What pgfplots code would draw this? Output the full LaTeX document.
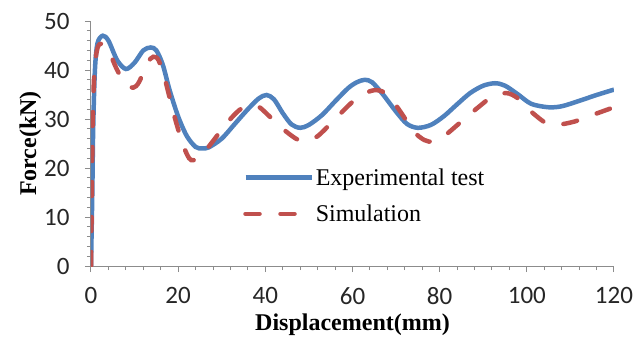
\documentclass[border=0pt]{standalone}
\usepackage{pgfplots}
\pgfplotsset{compat=1.18}
\usepackage{fontspec}
\setmainfont{Liberation Serif}
\newfontfamily\tickfont{Carlito}
\definecolor{expblue}{HTML}{4F81BD}
\definecolor{simred}{HTML}{C0504D}
\definecolor{axisgray}{HTML}{8C8C8C}
\begin{document}
\begin{tikzpicture}
\useasboundingbox (-91pt,-72pt) rectangle (542pt,266pt);
\begin{axis}[
  scale only axis,
  width=523pt, height=245pt,
  xmin=0, xmax=120, ymin=0, ymax=50,
  axis x line*=bottom, axis y line*=left,
  axis line style={axisgray, line width=1pt, -},
  xtick={0,20,...,120}, ytick={0,10,...,50},
  minor x tick num=4, minor y tick num=4,
  tick align=outside,
  major tick length=6pt, minor tick length=4pt,
  tick style={axisgray, line width=1pt},
  ticklabel style={font=\tickfont\fontsize{25}{27}\selectfont, text=black!85},
  /pgf/number format/assume math mode=true,
  xticklabel style={yshift=-12pt},
  yticklabel style={xshift=-12pt},
  xlabel={\bfseries Displacement(mm)},
  ylabel={\bfseries Force(kN)},
  label style={font=\fontsize{24}{26}\selectfont},
  xlabel style={yshift=-2pt},
  ylabel style={yshift=-4pt},
  legend style={draw=none, fill=none, at={(0.285,0.415)}, anchor=north west,
    font=\fontsize{24}{26}\selectfont, row sep=14pt,
    /tikz/every even column/.append style={column sep=7pt}},
  legend cell align=left,
  legend image code/.code={\draw[#1] (0pt,0pt) -- (66pt,0pt);},
]
\addplot[expblue, line width=4.5pt, smooth, tension=0.5] coordinates {
(0,0) (0.3,15) (0.5,28) (0.9,40) (1.5,45.5) (2.7,47) (4,46) (6,42) (8,40.2)
(10,41.5) (12,44) (13.7,44.6) (15,44) (16.5,41) (18,36) (20,30.5) (22,26.5)
(24,24.3) (25.5,24) (27,24.2) (30,26) (33,29) (36,32) (38.5,34.2) (40.3,34.9)
(42,34) (44,31.2) (46,28.9) (48,28.2) (50,28.8) (53,30.8) (56,33.6) (59,36.3)
(61,37.5) (62.8,38) (64.5,37.5) (67,35) (70,31.5) (72.5,29) (75,28.2) (78,28.8)
(81,30.6) (84,33) (87,35.3) (90,36.8) (92.7,37.3) (95,36.8) (98,35) (101,33.1)
(104.9,32.4) (108,32.6) (112,33.7) (116,34.9) (120,36.0)
};
\addlegendentry{Experimental test}
\addplot[simred, line width=4.5pt, smooth, tension=0.5, line cap=round,
  dash pattern=on 14pt off 21pt] coordinates {
(0,0) (0.2,15) (0.4,30) (0.8,40) (1.5,44.5) (2.5,45.4) (4,44) (6,40) (8,37)
(9.7,36.4) (11,37.5) (13,41.5) (14.3,42.7) (15.5,42) (17,38) (19,31) (21,25)
(22.5,22) (23.5,21.6) (25,22.2) (28,25.5) (31,29) (34,31.8) (36.5,32.9)
(38.5,32.5) (41,30.5) (44,28) (47,26) (49,25.4) (52,26.5) (56,30) (60,33.5)
(63,35.3) (65.5,35.9) (68,35) (71,31.5) (74,27.5) (76.5,25.7) (78.5,25.4)
(81,26.5) (85,29.5) (89,32.5) (92,34.5) (95.3,35.3) (98,34.2) (101,31.5)
(104.5,29.1) (107,28.8) (111,29.5) (115,30.8) (120,32.4)
};
\addlegendentry{Simulation}
\end{axis}
\end{tikzpicture}
\end{document}
